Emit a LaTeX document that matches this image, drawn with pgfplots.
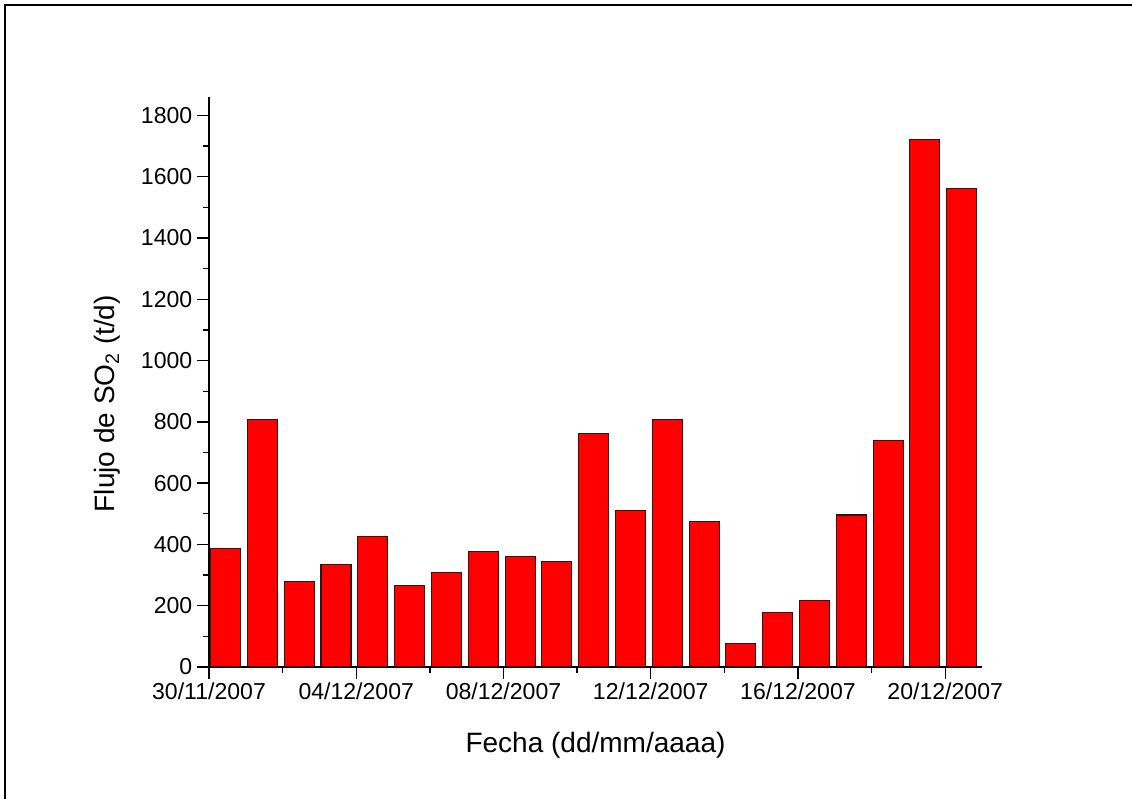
\documentclass[border=0pt]{standalone}
\usepackage{fontspec}
\setmainfont{Liberation Sans}
\usepackage{pgfplots}
\pgfplotsset{compat=1.18}

\definecolor{baredge}{RGB}{60,15,15}

\begin{document}
\begin{tikzpicture}
    \useasboundingbox (0,0) rectangle (849pt,599.25pt);
    % frame of the original figure (only top and left visible)
    \draw[line width=1.5pt] (3.75pt,-2pt) -- (3.75pt,595.5pt) -- (852pt,595.5pt);
    \begin{axis}[
            at={(156.75pt,99pt)},
            anchor=south west,
            scale only axis,
            width=579.75pt,
            height=427.5pt,
            xmin=0, xmax=21,
            ymin=0, ymax=1860,
            axis x line*=bottom,
            axis y line*=left,
            axis line style={line width=1.2pt, black},
            tick align=outside,
            major tick length=9pt,
            minor tick length=4.5pt,
            tick style={line width=1pt, black},
            xtick={0,4,8,12,16,20},
            xticklabels={30/11/2007,04/12/2007,08/12/2007,12/12/2007,16/12/2007,20/12/2007},
            minor x tick num=1,
            ytick={0,200,...,1800},
            minor y tick num=1,
            /pgf/number format/assume math mode=true,
            /pgf/number format/1000 sep={},
            tick label style={font=\fontsize{17.3}{19}\selectfont},
            xticklabel style={inner sep=2.5pt},
            xlabel={Fecha (dd/mm/aaaa)},
            ylabel={Flujo de SO\textsubscript{2} (t/d)},
            label style={font=\fontsize{21}{24}\selectfont},
            xlabel style={at={(rel axis cs:0.5,-0.137)}, anchor=center},
            ylabel style={at={(rel axis cs:-0.131,0.462)}, anchor=center},
            ybar,
            bar width=22.5pt,
        ]
        \addplot[draw=baredge, line width=0.8pt, fill=red]
        coordinates {
                (0.45,386) (1.45,809) (2.45,279) (3.45,333) (4.45,425)
                (5.45,265) (6.45,307) (7.45,377) (8.45,362) (9.45,345)
                (10.45,761) (11.45,510) (12.45,809) (13.45,474) (14.45,77)
                (15.45,179) (16.45,216) (17.45,496) (18.45,739) (19.45,1720)
                (20.45,1560)};
    \end{axis}
\end{tikzpicture}
\end{document}
